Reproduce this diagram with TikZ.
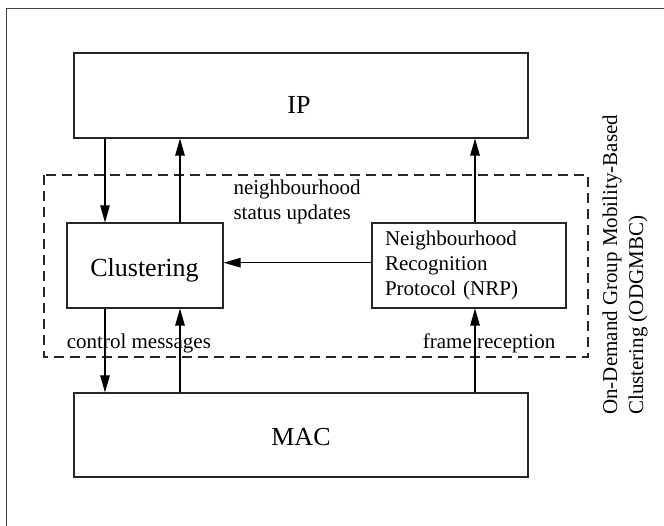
\documentclass[tikz,border=0pt]{standalone}
\usepackage{fontspec}
\setmainfont{Liberation Serif}
\usetikzlibrary{arrows.meta}
\tikzset{
  box/.style={draw=black!85, line width=1.1pt, inner sep=0pt},
  arr/.style={draw=black, line width=1.1pt, -{Triangle[length=17pt,width=9.5pt]}},
  big/.style={font=\fontsize{26}{31}\selectfont, inner sep=0pt},
  small/.style={font=\fontsize{21}{25}\selectfont, inner sep=0pt},
  group/.style={draw=black!85, line width=1.1pt, dash pattern=on 10pt off 6pt},
}
\begin{document}
\begin{tikzpicture}[x=1pt,y=-1pt]
\useasboundingbox (0,0) rectangle (664,526);
% outer frame
\draw[black!75, line width=1.2pt] (6.5,526) -- (6.5,8.5) -- (664,8.5);
% dashed group
\draw[group] (44,175) rectangle (588,357);
% boxes
\node[box, minimum width=454pt, minimum height=85pt] (ip) at (301,95.5) {};
\node[box, minimum width=454pt, minimum height=84pt] (mac) at (301,435) {};
\node[box, minimum width=156pt, minimum height=85pt] (clust) at (145,265.5) {};
\node[box, minimum width=194pt, minimum height=85pt, inner xsep=13pt,
      text width=168pt, align=left, font=\fontsize{21}{25}\selectfont] (nrp) at (469,265.5)
  {Neighbourhood\\Recognition\\Protocol (NRP)};
% box labels
\node[big, anchor=base] (iplab) at (299,113.3) {IP};
\node[big, anchor=base] (maclab) at (301,445) {MAC};
\node[big, anchor=base] (clustlab) at (144.5,276.7) {Clustering};
% connector labels
\node[small, anchor=base west, align=left] (nsu) at (233.3,219.3) {neighbourhood\\status updates};
\node[small, anchor=base west] (cm) at (66.7,348.3) {control messages};
\node[small, anchor=base west] (fr) at (422.7,348.3) {frame reception};
% side label
\node[rotate=90, anchor=west, align=left, inner sep=0pt,
      font=\fontsize{21}{26}\selectfont] (odg) at (625,415)
  {On-Demand Group Mobility-Based\\Clustering (ODGMBC)};
% x positions of connectors
\coordinate (xa) at (105,0);
\coordinate (xb) at (180,0);
\coordinate (xc) at (475,0);
\coordinate (yh) at (0,262.7);
% connectors
\draw[arr] (ip.south -| xa) -- (clust.north -| xa);
\draw[arr] (clust.north -| xb) -- (ip.south -| xb);
\draw[arr] (nrp.north -| xc) -- (ip.south -| xc);
\draw[arr] (clust.south -| xa) -- (mac.north -| xa);
\draw[arr] (mac.north -| xb) -- (clust.south -| xb);
\draw[arr] (mac.north -| xc) -- (nrp.south -| xc);
\draw[arr] (nrp.west |- yh) -- (clust.east |- yh);
\end{tikzpicture}
\end{document}
